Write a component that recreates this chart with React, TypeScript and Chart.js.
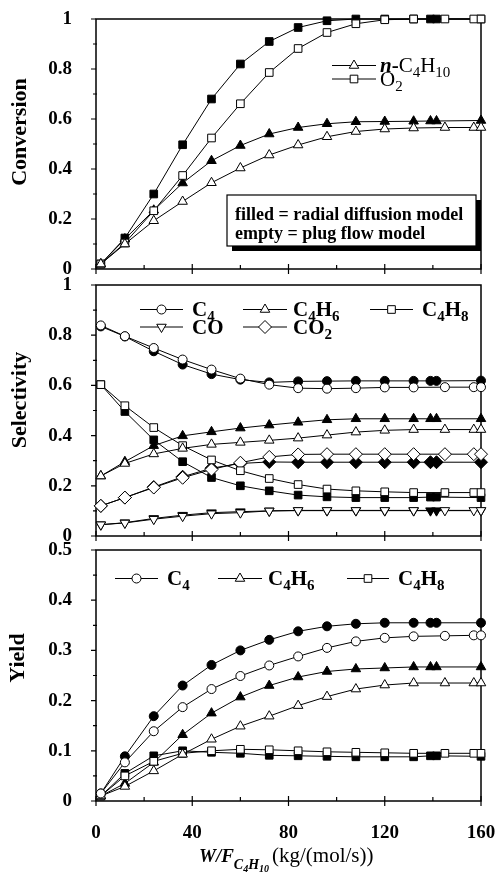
import React, { useEffect, useRef } from 'react';
import { Chart, registerables } from 'chart.js';
Chart.register(...registerables);

const SERIF = '"Liberation Serif", "Times New Roman", serif';

// x positions (W/F, kg/(mol/s))
const X_FILLED = [2, 12, 24, 36, 48, 60, 72, 84, 96, 108, 120, 132, 139, 141.5, 160];
const X_OPEN = [2, 12, 24, 36, 48, 60, 72, 84, 96, 108, 120, 132, 145, 157, 160];

// Conversion
const CONV_C4H10_FILLED = [0.02, 0.12, 0.235, 0.344, 0.433, 0.494, 0.54, 0.566, 0.581, 0.589, 0.59, 0.591, 0.592, 0.592, 0.594];
const CONV_C4H10_OPEN = [0.02, 0.1, 0.193, 0.27, 0.345, 0.404, 0.456, 0.496, 0.529, 0.55, 0.56, 0.564, 0.566, 0.566, 0.566];
const CONV_O2_FILLED = [0.02, 0.124, 0.3, 0.497, 0.68, 0.82, 0.91, 0.966, 0.993, 1.0, 1.0, 1.0, 1.0, 1.0, 1.0];
const CONV_O2_OPEN = [0.02, 0.104, 0.233, 0.374, 0.524, 0.661, 0.786, 0.882, 0.946, 0.981, 0.997, 1.0, 1.0, 1.0, 1.0];

// Selectivity
const SEL_C4_FILLED = [0.835, 0.795, 0.736, 0.683, 0.645, 0.623, 0.612, 0.616, 0.617, 0.618, 0.618, 0.618, 0.618, 0.618, 0.619];
const SEL_C4_OPEN = [0.839, 0.796, 0.749, 0.703, 0.663, 0.627, 0.603, 0.589, 0.587, 0.589, 0.592, 0.592, 0.593, 0.593, 0.593];
const SEL_C4H6_FILLED = [0.239, 0.296, 0.36, 0.399, 0.415, 0.43, 0.442, 0.453, 0.463, 0.467, 0.467, 0.467, 0.467, 0.467, 0.467];
const SEL_C4H6_OPEN = [0.239, 0.289, 0.327, 0.349, 0.365, 0.373, 0.381, 0.39, 0.402, 0.414, 0.421, 0.424, 0.424, 0.424, 0.424];
const SEL_C4H8_FILLED = [0.603, 0.496, 0.383, 0.296, 0.233, 0.2, 0.18, 0.163, 0.156, 0.153, 0.153, 0.153, 0.155, 0.155, 0.153];
const SEL_C4H8_OPEN = [0.603, 0.519, 0.432, 0.36, 0.303, 0.26, 0.229, 0.205, 0.187, 0.18, 0.176, 0.173, 0.173, 0.173, 0.173];
const SEL_CO_FILLED = [0.045, 0.053, 0.07, 0.083, 0.093, 0.097, 0.1, 0.101, 0.101, 0.101, 0.101, 0.101, 0.101, 0.101, 0.101];
const SEL_CO_OPEN = [0.045, 0.052, 0.067, 0.079, 0.089, 0.093, 0.1, 0.102, 0.102, 0.102, 0.102, 0.102, 0.102, 0.102, 0.102];
const SEL_CO2_FILLED = [0.12, 0.153, 0.195, 0.236, 0.27, 0.289, 0.295, 0.294, 0.294, 0.294, 0.294, 0.294, 0.294, 0.294, 0.294];
const SEL_CO2_OPEN = [0.12, 0.153, 0.193, 0.232, 0.265, 0.292, 0.315, 0.325, 0.326, 0.326, 0.326, 0.326, 0.326, 0.326, 0.326];

// Yield
const Y_C4_FILLED = [0.015, 0.089, 0.169, 0.23, 0.271, 0.3, 0.321, 0.338, 0.348, 0.353, 0.355, 0.355, 0.355, 0.355, 0.355];
const Y_C4_OPEN = [0.015, 0.077, 0.139, 0.187, 0.223, 0.249, 0.27, 0.288, 0.305, 0.318, 0.325, 0.328, 0.329, 0.33, 0.33];
const Y_C4H6_FILLED = [0.01, 0.035, 0.077, 0.132, 0.175, 0.207, 0.23, 0.247, 0.258, 0.263, 0.265, 0.267, 0.267, 0.267, 0.267];
const Y_C4H6_OPEN = [0.01, 0.029, 0.06, 0.093, 0.123, 0.149, 0.169, 0.19, 0.208, 0.223, 0.231, 0.235, 0.235, 0.235, 0.235];
const Y_C4H8_FILLED = [0.01, 0.055, 0.09, 0.1, 0.097, 0.095, 0.091, 0.09, 0.089, 0.088, 0.088, 0.088, 0.09, 0.09, 0.089];
const Y_C4H8_OPEN = [0.01, 0.05, 0.079, 0.095, 0.1, 0.103, 0.102, 0.1, 0.098, 0.097, 0.096, 0.095, 0.095, 0.095, 0.095];

const X_TICKS_MAJOR = 40;
const X_TICKS_MINOR = 20;

type Marker = { style: string; r: number; rot: number };
const CIRCLE: Marker = { style: 'circle', r: 4.5, rot: 0 };
const TRI: Marker = { style: 'triangle', r: 5.5, rot: 0 };
const TRI_DOWN: Marker = { style: 'triangle', r: 5.5, rot: 180 };
const SQUARE: Marker = { style: 'rect', r: 5.4, rot: 0 };
const DIAMOND: Marker = { style: 'rectRot', r: 6.5, rot: 0 };

function ds(xs: number[], ys: number[], m: Marker, filled: boolean) {
  return {
    data: xs.map((x, i) => ({ x, y: ys[i] })),
    borderColor: '#000',
    borderWidth: 1,
    pointStyle: m.style,
    pointRadius: m.r,
    pointRotation: m.rot,
    pointBackgroundColor: filled ? '#000' : '#fff',
    pointBorderColor: '#000',
    pointBorderWidth: 1,
    order: filled ? 1 : 0,
    clip: false,
    tension: 0,
    fill: false,
  };
}

function drawMarker(ctx: CanvasRenderingContext2D, m: Marker, x: number, y: number, filled: boolean) {
  ctx.save();
  ctx.beginPath();
  const r = m.r;
  if (m.style === 'circle') {
    ctx.arc(x, y, r, 0, Math.PI * 2);
  } else if (m.style === 'triangle') {
    let a = (m.rot * Math.PI) / 180;
    ctx.moveTo(x + Math.sin(a) * r, y - Math.cos(a) * r);
    a += (2 * Math.PI) / 3;
    ctx.lineTo(x + Math.sin(a) * r, y - Math.cos(a) * r);
    a += (2 * Math.PI) / 3;
    ctx.lineTo(x + Math.sin(a) * r, y - Math.cos(a) * r);
    ctx.closePath();
  } else if (m.style === 'rect') {
    const s = r * Math.SQRT1_2;
    ctx.rect(x - s, y - s, 2 * s, 2 * s);
  } else if (m.style === 'rectRot') {
    ctx.moveTo(x, y - r);
    ctx.lineTo(x + r, y);
    ctx.lineTo(x, y + r);
    ctx.lineTo(x - r, y);
    ctx.closePath();
  }
  ctx.fillStyle = filled ? '#000' : '#fff';
  ctx.fill();
  ctx.strokeStyle = '#000';
  ctx.lineWidth = 1;
  ctx.stroke();
  ctx.restore();
}

type Part = { t: string; font: string; dy?: number };
function drawRich(ctx: CanvasRenderingContext2D, x: number, y: number, parts: Part[]) {
  ctx.save();
  ctx.fillStyle = '#000';
  ctx.textAlign = 'left';
  ctx.textBaseline = 'alphabetic';
  let cx = x;
  for (const p of parts) {
    ctx.font = p.font;
    ctx.fillText(p.t, cx, y + (p.dy || 0));
    cx += ctx.measureText(p.t).width;
  }
  ctx.restore();
  return cx - x;
}

const B_BIG = `bold 21px ${SERIF}`;
const B_SUB = `bold 15px ${SERIF}`;
const R_BIG = `21px ${SERIF}`;
const R_SUB = `15px ${SERIF}`;

function legendItem(ctx: CanvasRenderingContext2D, x1: number, x2: number, ly: number, m: Marker, tx: number, by: number, parts: Part[]) {
  ctx.save();
  ctx.strokeStyle = '#000';
  ctx.lineWidth = 1;
  ctx.beginPath();
  ctx.moveTo(x1, ly);
  ctx.lineTo(x2, ly);
  ctx.stroke();
  ctx.restore();
  drawMarker(ctx, m, (x1 + x2) / 2, ly, false);
  drawRich(ctx, tx, by, parts);
}

const sub = (t: string, bold = true): Part => ({ t, font: bold ? B_SUB : R_SUB, dy: 5 });
const big = (t: string, bold = true): Part => ({ t, font: bold ? B_BIG : R_BIG });

function yTitle(ctx: CanvasRenderingContext2D, text: string, cx: number, cy: number) {
  ctx.save();
  ctx.translate(cx, cy);
  ctx.rotate(-Math.PI / 2);
  ctx.font = `bold 22px ${SERIF}`;
  ctx.fillStyle = '#000';
  ctx.textAlign = 'center';
  ctx.textBaseline = 'middle';
  ctx.fillText(text, 0, 0);
  ctx.restore();
}

type PanelProps = {
  top: number;
  height: number;
  padTop: number;
  xAxisH: number;
  yMax: number;
  yStep: number;
  yMinor: number;
  datasets: any[];
  showX: boolean;
  overlay: (ctx: CanvasRenderingContext2D) => void;
};

function Panel(props: PanelProps) {
  const ref = useRef<HTMLCanvasElement>(null);
  useEffect(() => {
    const { top, padTop, xAxisH, yMax, yStep, yMinor, datasets, showX, overlay } = props;
    const decor = {
      id: 'decor',
      beforeDatasetsDraw(chart: any) {
        const ctx: CanvasRenderingContext2D = chart.ctx;
        const a = chart.chartArea;
        const xs = chart.scales.x;
        const ys = chart.scales.y;
        ctx.save();
        ctx.strokeStyle = '#000';
        ctx.lineWidth = 1.5;
        ctx.strokeRect(a.left, a.top, a.right - a.left, a.bottom - a.top);
        ctx.lineWidth = 1.2;
        ctx.beginPath();
        for (let v = 0; v <= 160 + 1e-9; v += X_TICKS_MINOR) {
          const px = xs.getPixelForValue(v);
          if (Math.abs(v % X_TICKS_MAJOR) < 1e-9) {
            ctx.moveTo(px, a.bottom - 5);
            ctx.lineTo(px, a.bottom + 5);
          } else {
            ctx.moveTo(px, a.bottom - 4);
            ctx.lineTo(px, a.bottom);
          }
        }
        const n = Math.round(yMax / yMinor);
        const per = Math.round(yStep / yMinor);
        for (let i = 0; i <= n; i++) {
          const py = ys.getPixelForValue(i * yMinor);
          if (i % per === 0) {
            ctx.moveTo(a.left - 5, py);
            ctx.lineTo(a.left, py);
          } else {
            ctx.moveTo(a.left - 3, py);
            ctx.lineTo(a.left + 1, py);
          }
        }
        ctx.stroke();
        ctx.restore();
      },
      afterDraw(chart: any) {
        const ctx: CanvasRenderingContext2D = chart.ctx;
        ctx.save();
        ctx.translate(0, -top);
        overlay(ctx);
        ctx.restore();
      },
    };
    const chart = new Chart(ref.current as HTMLCanvasElement, {
      type: 'line',
      data: { datasets },
      options: {
        animation: false,
        responsive: false,
        devicePixelRatio: 1,
        layout: { padding: { top: padTop, right: 14, left: 0, bottom: 0 } },
        plugins: { legend: { display: false }, tooltip: { enabled: false } },
        scales: {
          x: {
            type: 'linear',
            min: 0,
            max: 160,
            grid: { display: false, drawTicks: false },
            border: { display: false },
            ticks: {
              display: showX,
              stepSize: X_TICKS_MAJOR,
              maxRotation: 0,
              padding: 21,
              color: '#000',
              font: { family: SERIF, size: 19, weight: 'bold' },
            },
            afterFit: (s: any) => {
              s.height = xAxisH;
              s.paddingLeft = 0;
              s.paddingRight = 0;
            },
          },
          y: {
            type: 'linear',
            min: 0,
            max: yMax,
            grid: { display: false, drawTicks: false },
            border: { display: false },
            ticks: {
              stepSize: yStep,
              padding: 24,
              color: '#000',
              font: { family: SERIF, size: 19, weight: 'bold' },
              callback: (v: any) => String(Math.round(Number(v) * 100) / 100),
            },
            afterFit: (s: any) => {
              s.width = 96;
              s.paddingTop = 0;
              s.paddingBottom = 0;
            },
          },
        },
      } as any,
      plugins: [decor],
    });
    return () => chart.destroy();
  }, []);
  return (
    <canvas
      ref={ref}
      width={495}
      height={props.height}
      style={{ position: 'absolute', left: 0, top: props.top, display: 'block' }}
    />
  );
}

export default function App() {
  const convData = [
    ds(X_OPEN, CONV_C4H10_OPEN, TRI, false),
    ds(X_OPEN, CONV_O2_OPEN, SQUARE, false),
    ds(X_FILLED, CONV_C4H10_FILLED, TRI, true),
    ds(X_FILLED, CONV_O2_FILLED, SQUARE, true),
  ];
  const selData = [
    ds(X_OPEN, SEL_C4_OPEN, CIRCLE, false),
    ds(X_OPEN, SEL_C4H6_OPEN, TRI, false),
    ds(X_OPEN, SEL_C4H8_OPEN, SQUARE, false),
    ds(X_OPEN, SEL_CO_OPEN, TRI_DOWN, false),
    ds(X_OPEN, SEL_CO2_OPEN, DIAMOND, false),
    ds(X_FILLED, SEL_C4_FILLED, CIRCLE, true),
    ds(X_FILLED, SEL_C4H6_FILLED, TRI, true),
    ds(X_FILLED, SEL_C4H8_FILLED, SQUARE, true),
    ds(X_FILLED, SEL_CO_FILLED, TRI_DOWN, true),
    ds(X_FILLED, SEL_CO2_FILLED, DIAMOND, true),
  ];
  const yieldData = [
    ds(X_OPEN, Y_C4_OPEN, CIRCLE, false),
    ds(X_OPEN, Y_C4H6_OPEN, TRI, false),
    ds(X_OPEN, Y_C4H8_OPEN, SQUARE, false),
    ds(X_FILLED, Y_C4_FILLED, CIRCLE, true),
    ds(X_FILLED, Y_C4H6_FILLED, TRI, true),
    ds(X_FILLED, Y_C4H8_FILLED, SQUARE, true),
  ];

  const convOverlay = (ctx: CanvasRenderingContext2D) => {
    yTitle(ctx, 'Conversion', 20, 132);
    legendItem(ctx, 332, 376, 65.5, TRI, 380, 72, [
      { t: 'n', font: `italic bold 21px ${SERIF}` },
      { t: '-', font: B_BIG },
      big('C', false),
      sub('4', false),
      big('H', false),
      sub('10', false),
    ]);
    legendItem(ctx, 332, 376, 79, SQUARE, 380, 86, [big('O', false), sub('2', false)]);
    // note box with shadow
    ctx.save();
    ctx.fillStyle = '#000';
    ctx.fillRect(232, 200, 249, 51);
    ctx.fillStyle = '#fff';
    ctx.fillRect(227, 195, 249, 51);
    ctx.strokeStyle = '#000';
    ctx.lineWidth = 1.2;
    ctx.strokeRect(227, 195, 249, 51);
    ctx.restore();
    drawRich(ctx, 235, 220, [{ t: 'filled = radial diffusion model', font: `bold 18px ${SERIF}` }]);
    drawRich(ctx, 235, 239, [{ t: 'empty = plug flow model', font: `bold 18px ${SERIF}` }]);
  };

  const selOverlay = (ctx: CanvasRenderingContext2D) => {
    yTitle(ctx, 'Selectivity', 20, 400);
    legendItem(ctx, 140, 183, 309.5, CIRCLE, 192, 316, [big('C'), sub('4')]);
    legendItem(ctx, 243, 287, 309.5, TRI, 293, 316, [big('C'), sub('4'), big('H'), sub('6')]);
    legendItem(ctx, 370, 413, 309.5, SQUARE, 422, 316, [big('C'), sub('4'), big('H'), sub('8')]);
    legendItem(ctx, 140, 183, 327, TRI_DOWN, 192, 334, [big('CO')]);
    legendItem(ctx, 243, 287, 327, DIAMOND, 293, 334, [big('CO'), sub('2')]);
  };

  const yieldOverlay = (ctx: CanvasRenderingContext2D) => {
    yTitle(ctx, 'Yield', 18, 658);
    legendItem(ctx, 115, 158, 578.5, CIRCLE, 167, 585, [big('C'), sub('4')]);
    legendItem(ctx, 218, 262, 578.5, TRI, 268, 585, [big('C'), sub('4'), big('H'), sub('6')]);
    legendItem(ctx, 347, 389, 578.5, SQUARE, 398, 585, [big('C'), sub('4'), big('H'), sub('8')]);
    drawRich(ctx, 199, 862, [
      { t: 'W/F', font: `italic bold 19px ${SERIF}` },
      { t: 'C', font: `italic bold 14px ${SERIF}`, dy: 7 },
      { t: '4', font: `italic bold 10px ${SERIF}`, dy: 10 },
      { t: 'H', font: `italic bold 14px ${SERIF}`, dy: 7 },
      { t: '10', font: `italic bold 10px ${SERIF}`, dy: 10 },
    ]);
    drawRich(ctx, 272, 862, [{ t: '(kg/(mol/s))', font: `21px ${SERIF}` }]);
  };

  return (
    <div style={{ position: 'absolute', left: 0, top: 0, width: 495, height: 873, background: '#fff' }}>
      <Panel top={0} height={282} padTop={19} xAxisH={13} yMax={1} yStep={0.2} yMinor={0.1} datasets={convData} showX={false} overlay={convOverlay} />
      <Panel top={268} height={280} padTop={17} xAxisH={12} yMax={1} yStep={0.2} yMinor={0.1} datasets={selData} showX={false} overlay={selOverlay} />
      <Panel top={535} height={338} padTop={15} xAxisH={72} yMax={0.5} yStep={0.1} yMinor={0.05} datasets={yieldData} showX={true} overlay={yieldOverlay} />
    </div>
  );
}
